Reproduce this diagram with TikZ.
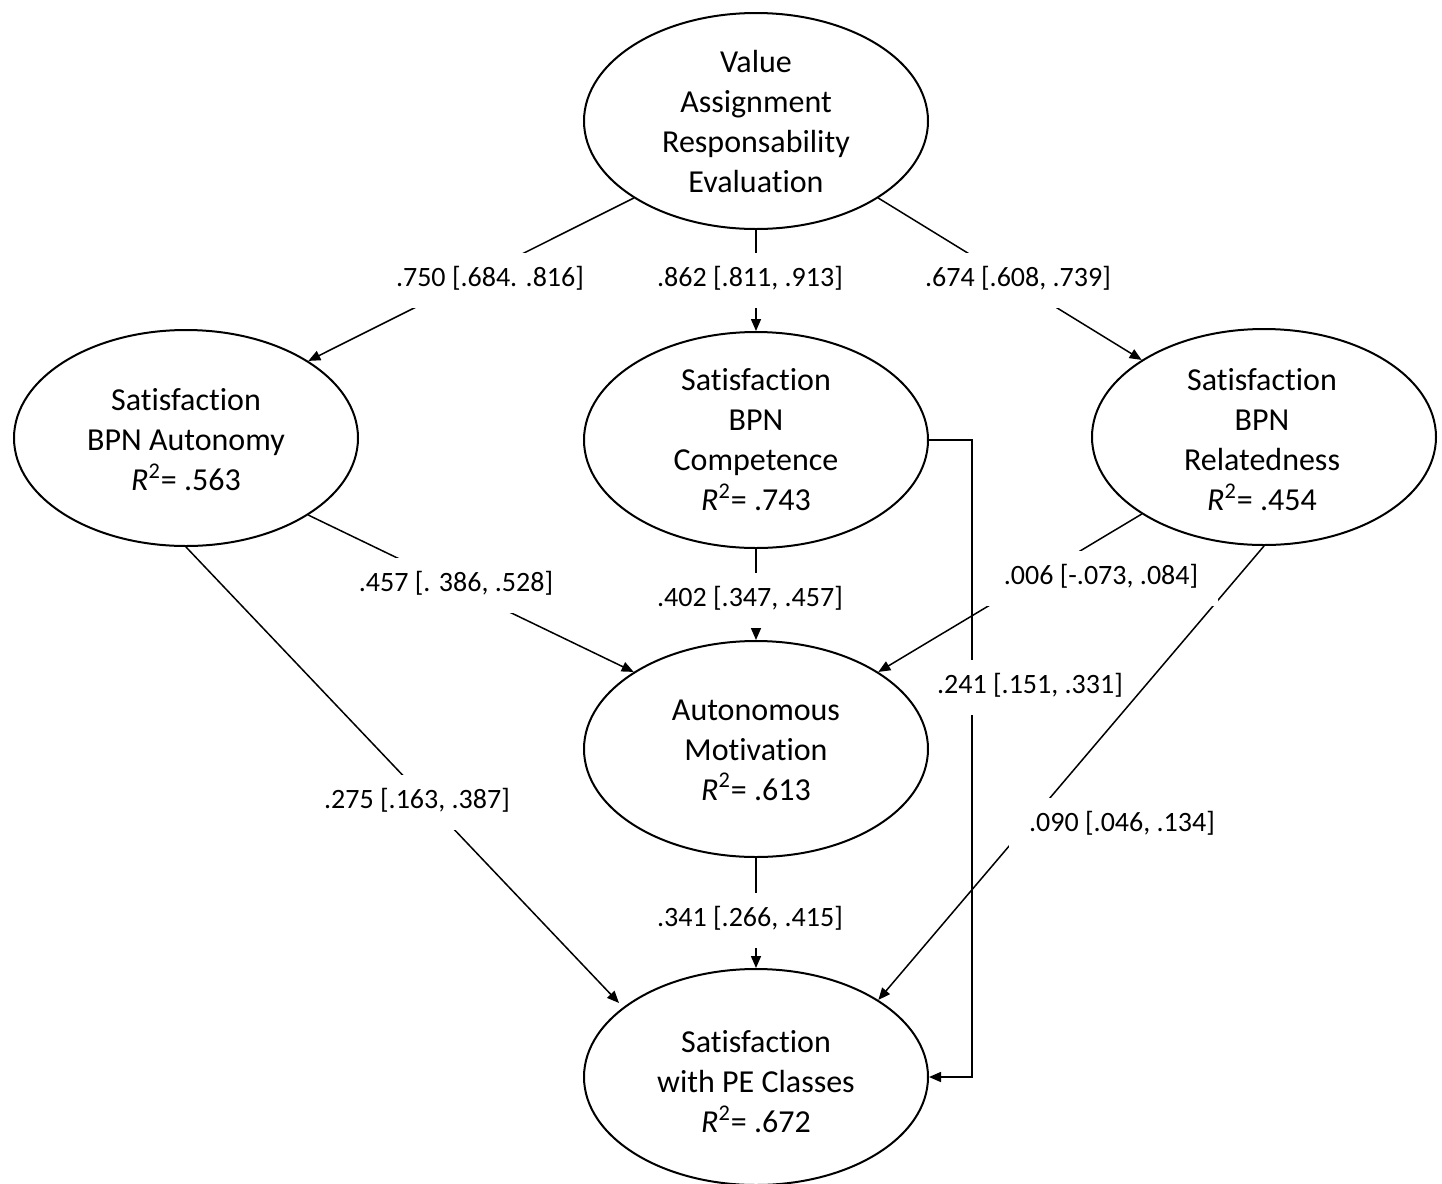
\documentclass[tikz,border=0pt]{standalone}
\usepackage{fontspec}
\setmainfont{Carlito}[Ligatures=NoCommon]
\usetikzlibrary{shapes.geometric,arrows.meta}
\begin{document}
\begin{tikzpicture}[x=0.5pt,y=-0.5pt,
  ell/.style={draw, ellipse, line width=1pt, minimum width=172pt, minimum height=108pt, inner sep=0pt},
  etext/.style={align=center, font=\fontsize{16}{20}\selectfont, inner sep=0pt},
  lab/.style={fill=white, font=\fontsize{14}{17}\selectfont, inner xsep=10pt, inner ysep=7pt, text height=10pt, text depth=3.5pt},
  conn/.style={line width=0.75pt, -{Triangle[length=6pt,width=5pt]}}]
\useasboundingbox (0,0) rectangle (1442,1184);
% ellipses
\node[ell] (val) at (756,121) {};
\node[ell] (aut) at (186,438) {};
\node[ell] (com) at (756,440) {};
\node[ell] (rel) at (1264,437) {};
\node[ell] (mot) at (756,749) {};
\node[ell] (pe)  at (756,1077) {};
% texts in ellipses
\node[etext] (tval) at (756,122) {Value\\Assignment\\Responsability\\Evaluation};
\node[etext] (taut) at (186,440) {Satisfaction\\BPN Autonomy\\\textit{R}\textsuperscript{2}= .563};
\node[etext] (tcom) at (756,440) {Satisfaction\\BPN\\Competence\\\textit{R}\textsuperscript{2}= .743};
\node[etext] (trel) at (1262,440) {Satisfaction\\BPN\\Relatedness\\\textit{R}\textsuperscript{2}= .454};
\node[etext] (tmot) at (756,750) {Autonomous\\Motivation\\\textit{R}\textsuperscript{2}= .613};
\node[etext] (tpe) at (756,1082) {Satisfaction\\with PE Classes\\\textit{R}\textsuperscript{2}= .672};
% connectors
\draw[conn] (val.south west) -- (aut.north east);
\draw[conn] (val.south) -- (com.north);
\draw[conn] (val.south east) -- (rel.north west);
\draw[conn] (aut.south east) -- (mot.north west);
\draw[conn] (com.south) -- (mot.north);
\draw[conn] (rel.south west) -- (mot.north east);
\coordinate (tipL) at (619,1003);
\draw[conn] (aut.south) -- (tipL);
\draw[conn] (mot.south) -- (pe.north);
\coordinate (elb) at (972,440);
\draw[conn] (com.east) -- (elb) |- (pe.east);
\node[lab, inner xsep=3pt] (l7) at (1030,687) {.241 [.151, .331]};
\draw[conn] (rel.south) -- (pe.north east);
% labels
\node[lab] (l1) at (490,280) {.750 [.684. .816]};
\node[lab] (l2) at (750,280) {.862 [.811, .913]};
\node[lab] (l3) at (1018,280) {.674 [.608, .739]};
\node[lab] (l4) at (456,585) {.457 [. 386, .528]};
\node[lab] (l5) at (750,600) {.402 [.347, .457]};
\node[lab] (l6) at (1101,578) {.006 [-.073, .084]};
\node[lab] (l8) at (417,802) {.275 [.163, .387]};
\node[lab] (l9) at (1122,825) {.090 [.046, .134]};
\node[lab] (l10) at (750,920) {.341 [.266, .415]};
\end{tikzpicture}
\end{document}
